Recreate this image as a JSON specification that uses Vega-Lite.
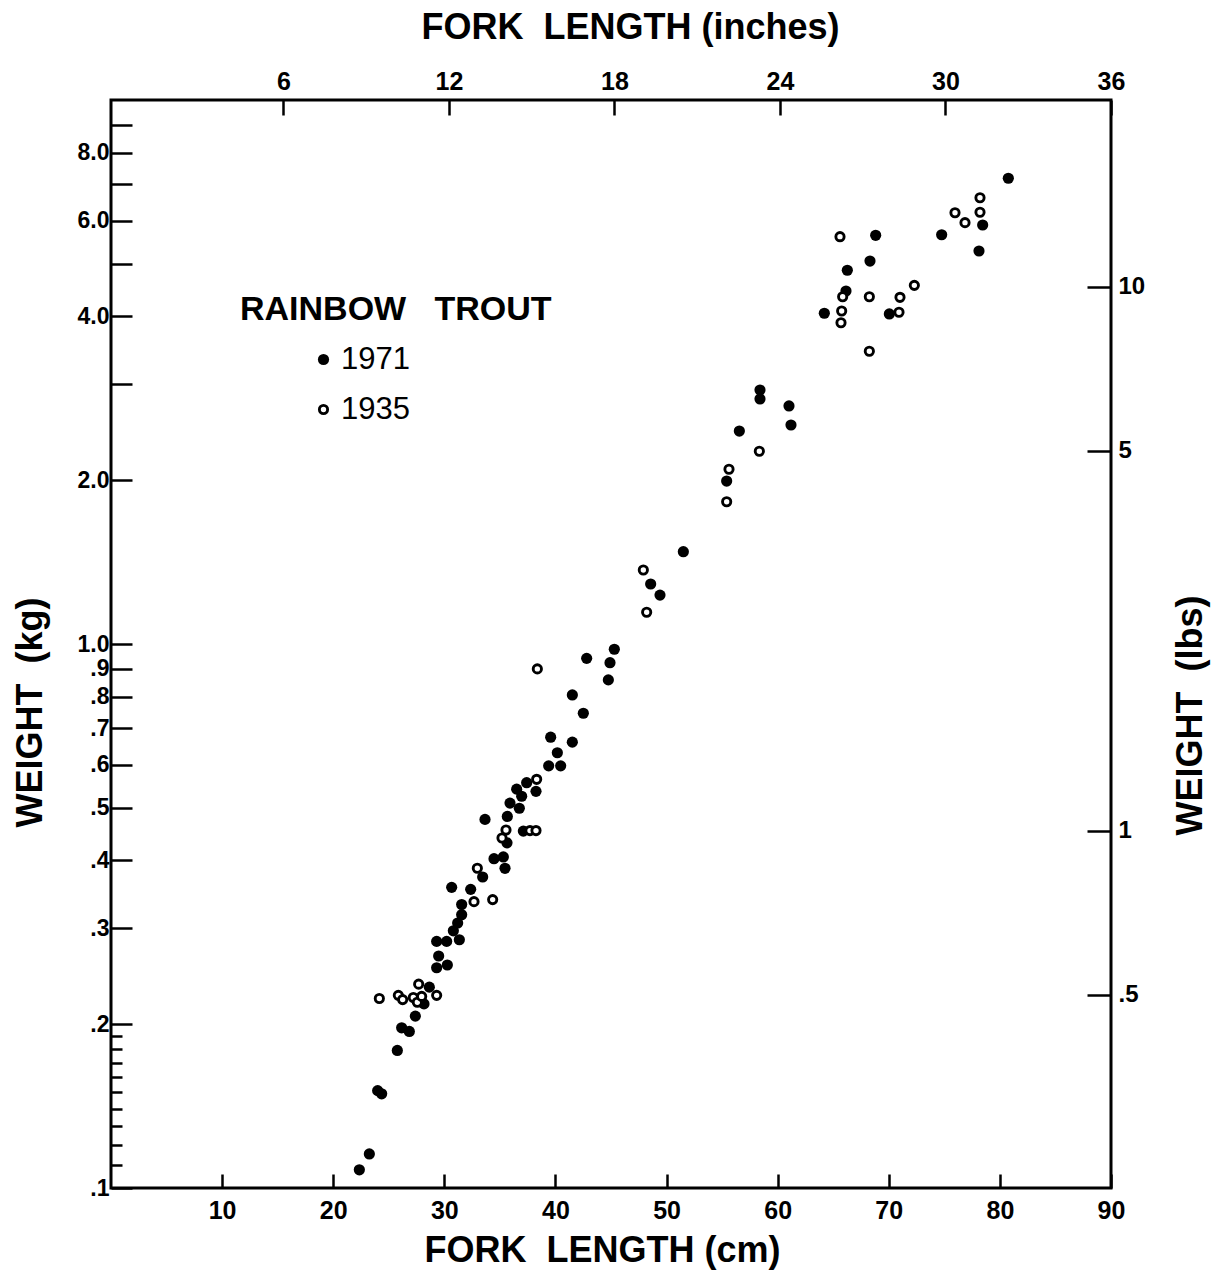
{
  "$schema": "https://vega.github.io/schema/vega-lite/v6.json",
  "width": 1000,
  "height": 1088,
  "autosize": {"type": "none"},
  "padding": {"left": 111, "top": 100, "right": 105, "bottom": 84},
  "background": "white",
  "config": {
    "view": {"stroke": "black", "strokeWidth": 3},
    "axis": {
      "domain": false, "grid": false, "tickColor": "black", "tickWidth": 2.5,
      "labelColor": "black", "titleColor": "black",
      "labelFont": "Liberation Sans, sans-serif", "labelFontWeight": "bold", "labelFontSize": 25,
      "titleFont": "Liberation Sans, sans-serif", "titleFontWeight": "bold", "titleFontSize": 36,
      "labelFlush": false, "labelOverlap": false, "labelBound": false, "labelAngle": 0,
      "titleAlign": "center", "titleBaseline": "middle"
    },
    "legend": {
      "orient": "none", "legendX": 129, "legendY": 193, "padding": 0,
      "titleFont": "Liberation Sans", "titleFontWeight": "bold", "titleFontSize": 34, "titleColor": "black", "titleLimit": 600,
      "labelFont": "Liberation Sans", "labelFontSize": 31, "labelColor": "black", "labelLimit": 300,
      "symbolOffset": 68, "labelOffset": 2, "rowPadding": 18, "titlePadding": 17,
      "symbolStrokeColor": "black", "symbolType": "circle"
    }
  },
  "layer": [
    {
      "data": {"values": [
        {"cm": 22.35, "kg": 0.108, "year": "1971"},
        {"cm": 23.25, "kg": 0.1155, "year": "1971"},
        {"cm": 24.0, "kg": 0.151, "year": "1971"},
        {"cm": 24.36, "kg": 0.149, "year": "1971"},
        {"cm": 25.77, "kg": 0.179, "year": "1971"},
        {"cm": 26.16, "kg": 0.197, "year": "1971"},
        {"cm": 26.85, "kg": 0.194, "year": "1971"},
        {"cm": 27.39, "kg": 0.207, "year": "1971"},
        {"cm": 28.17, "kg": 0.218, "year": "1971"},
        {"cm": 28.65, "kg": 0.234, "year": "1971"},
        {"cm": 29.31, "kg": 0.254, "year": "1971"},
        {"cm": 30.27, "kg": 0.257, "year": "1971"},
        {"cm": 29.49, "kg": 0.267, "year": "1971"},
        {"cm": 29.31, "kg": 0.284, "year": "1971"},
        {"cm": 30.21, "kg": 0.284, "year": "1971"},
        {"cm": 31.35, "kg": 0.286, "year": "1971"},
        {"cm": 30.81, "kg": 0.297, "year": "1971"},
        {"cm": 31.2, "kg": 0.307, "year": "1971"},
        {"cm": 31.56, "kg": 0.318, "year": "1971"},
        {"cm": 31.56, "kg": 0.332, "year": "1971"},
        {"cm": 30.66, "kg": 0.357, "year": "1971"},
        {"cm": 32.37, "kg": 0.354, "year": "1971"},
        {"cm": 33.45, "kg": 0.373, "year": "1971"},
        {"cm": 34.47, "kg": 0.403, "year": "1971"},
        {"cm": 35.31, "kg": 0.406, "year": "1971"},
        {"cm": 35.46, "kg": 0.387, "year": "1971"},
        {"cm": 33.66, "kg": 0.476, "year": "1971"},
        {"cm": 35.64, "kg": 0.431, "year": "1971"},
        {"cm": 35.67, "kg": 0.482, "year": "1971"},
        {"cm": 35.91, "kg": 0.51, "year": "1971"},
        {"cm": 36.75, "kg": 0.499, "year": "1971"},
        {"cm": 36.51, "kg": 0.541, "year": "1971"},
        {"cm": 36.96, "kg": 0.525, "year": "1971"},
        {"cm": 37.41, "kg": 0.556, "year": "1971"},
        {"cm": 38.25, "kg": 0.536, "year": "1971"},
        {"cm": 37.11, "kg": 0.453, "year": "1971"},
        {"cm": 39.39, "kg": 0.597, "year": "1971"},
        {"cm": 40.47, "kg": 0.597, "year": "1971"},
        {"cm": 40.17, "kg": 0.631, "year": "1971"},
        {"cm": 39.57, "kg": 0.674, "year": "1971"},
        {"cm": 41.52, "kg": 0.66, "year": "1971"},
        {"cm": 42.51, "kg": 0.746, "year": "1971"},
        {"cm": 41.52, "kg": 0.806, "year": "1971"},
        {"cm": 44.76, "kg": 0.859, "year": "1971"},
        {"cm": 42.81, "kg": 0.941, "year": "1971"},
        {"cm": 44.91, "kg": 0.924, "year": "1971"},
        {"cm": 45.3, "kg": 0.978, "year": "1971"},
        {"cm": 48.57, "kg": 1.289, "year": "1971"},
        {"cm": 49.41, "kg": 1.23, "year": "1971"},
        {"cm": 51.51, "kg": 1.478, "year": "1971"},
        {"cm": 55.41, "kg": 1.993, "year": "1971"},
        {"cm": 56.55, "kg": 2.463, "year": "1971"},
        {"cm": 61.2, "kg": 2.527, "year": "1971"},
        {"cm": 61.02, "kg": 2.739, "year": "1971"},
        {"cm": 58.41, "kg": 2.93, "year": "1971"},
        {"cm": 58.41, "kg": 2.821, "year": "1971"},
        {"cm": 64.2, "kg": 4.055, "year": "1971"},
        {"cm": 66.15, "kg": 4.455, "year": "1971"},
        {"cm": 66.27, "kg": 4.864, "year": "1971"},
        {"cm": 68.31, "kg": 5.058, "year": "1971"},
        {"cm": 68.82, "kg": 5.64, "year": "1971"},
        {"cm": 70.05, "kg": 4.043, "year": "1971"},
        {"cm": 74.76, "kg": 5.654, "year": "1971"},
        {"cm": 78.12, "kg": 5.277, "year": "1971"},
        {"cm": 78.45, "kg": 5.891, "year": "1971"},
        {"cm": 80.76, "kg": 7.18, "year": "1971"},
        {"cm": 24.15, "kg": 0.223, "year": "1935"},
        {"cm": 25.86, "kg": 0.226, "year": "1935"},
        {"cm": 26.25, "kg": 0.222, "year": "1935"},
        {"cm": 27.21, "kg": 0.224, "year": "1935"},
        {"cm": 27.69, "kg": 0.237, "year": "1935"},
        {"cm": 27.57, "kg": 0.2195, "year": "1935"},
        {"cm": 27.96, "kg": 0.225, "year": "1935"},
        {"cm": 29.31, "kg": 0.226, "year": "1935"},
        {"cm": 32.67, "kg": 0.336, "year": "1935"},
        {"cm": 34.35, "kg": 0.339, "year": "1935"},
        {"cm": 32.97, "kg": 0.387, "year": "1935"},
        {"cm": 35.55, "kg": 0.455, "year": "1935"},
        {"cm": 35.19, "kg": 0.44, "year": "1935"},
        {"cm": 37.71, "kg": 0.454, "year": "1935"},
        {"cm": 38.25, "kg": 0.454, "year": "1935"},
        {"cm": 38.31, "kg": 0.564, "year": "1935"},
        {"cm": 38.37, "kg": 0.9, "year": "1935"},
        {"cm": 47.91, "kg": 1.368, "year": "1935"},
        {"cm": 48.21, "kg": 1.144, "year": "1935"},
        {"cm": 55.41, "kg": 1.826, "year": "1935"},
        {"cm": 55.62, "kg": 2.095, "year": "1935"},
        {"cm": 58.35, "kg": 2.261, "year": "1935"},
        {"cm": 65.61, "kg": 5.607, "year": "1935"},
        {"cm": 65.85, "kg": 4.349, "year": "1935"},
        {"cm": 65.76, "kg": 4.094, "year": "1935"},
        {"cm": 65.7, "kg": 3.895, "year": "1935"},
        {"cm": 68.25, "kg": 4.349, "year": "1935"},
        {"cm": 68.25, "kg": 3.452, "year": "1935"},
        {"cm": 71.01, "kg": 4.338, "year": "1935"},
        {"cm": 70.92, "kg": 4.072, "year": "1935"},
        {"cm": 72.3, "kg": 4.564, "year": "1935"},
        {"cm": 75.96, "kg": 6.206, "year": "1935"},
        {"cm": 76.86, "kg": 5.95, "year": "1935"},
        {"cm": 78.21, "kg": 6.613, "year": "1935"},
        {"cm": 78.21, "kg": 6.217, "year": "1935"}
      ]},
      "mark": {"type": "point", "shape": "circle", "filled": true, "opacity": 1},
      "encoding": {
        "x": {
          "field": "cm", "type": "quantitative",
          "scale": {"domain": [0, 90], "nice": false, "zero": false},
          "axis": {"orient": "bottom", "values": [10, 20, 30, 40, 50, 60, 70, 80, 90], "tickSize": -14, "labelPadding": 24,
            "title": "FORK\u00a0\u00a0LENGTH (cm)", "titleX": 491, "titleY": 62}
        },
        "y": {
          "field": "kg", "type": "quantitative",
          "scale": {"type": "log", "domain": [0.1, 10], "nice": false},
          "axis": {"orient": "left", "values": [0.1, 0.2, 0.3, 0.4, 0.5, 0.6, 0.7, 0.8, 0.9, 1, 2, 3, 4, 5, 6, 7, 8, 9],
            "tickSize": -21, "labelPadding": 23, "labelFontSize": 23,
            "labelExpr": "datum.value < 1 ? replace(format(datum.value, '.1f'), '0.', '.') : (indexof([1, 2, 4, 6, 8], datum.value) >= 0 ? format(datum.value, '.1f') : '')",
            "title": "WEIGHT\u00a0\u00a0(kg)", "titleX": -81, "titleY": 612, "titleAngle": 270}
        },
        "fill": {
          "field": "year", "type": "nominal",
          "scale": {"domain": ["1971", "1935"], "range": ["black", "white"]},
          "legend": {"title": "RAINBOW\u00a0\u00a0 TROUT"}
        },
        "stroke": {
          "field": "year", "type": "nominal",
          "scale": {"domain": ["1971", "1935"], "range": ["black", "black"]},
          "legend": {"title": "RAINBOW\u00a0\u00a0 TROUT"}
        },
        "size": {
          "field": "year", "type": "nominal",
          "scale": {"domain": ["1971", "1935"], "range": [125, 68]},
          "legend": {"title": "RAINBOW\u00a0\u00a0 TROUT"}
        },
        "strokeWidth": {
          "field": "year", "type": "nominal",
          "scale": {"domain": ["1971", "1935"], "range": [0, 2.9]},
          "legend": {"title": "RAINBOW\u00a0\u00a0 TROUT"}
        }
      }
    },
    {
      "data": {"values": [{"inches": 6, "lbs": 1}]},
      "mark": {"type": "point", "opacity": 0},
      "encoding": {
        "x": {
          "field": "inches", "type": "quantitative",
          "scale": {"domain": [-0.25, 36], "nice": false, "zero": false},
          "axis": {"orient": "top", "values": [6, 12, 18, 24, 30, 36], "tickSize": -15, "labelPadding": 21,
            "title": "FORK\u00a0\u00a0LENGTH (inches)", "titleX": 519, "titleY": -73}
        },
        "y": {
          "field": "lbs", "type": "quantitative",
          "scale": {"type": "log", "domain": [0.220462, 22.0462], "nice": false},
          "axis": {"orient": "right", "values": [0.5, 1, 5, 10], "tickSize": -24, "labelPadding": 31,
            "labelFontSize": 24,
            "labelExpr": "datum.value == 0.5 ? '.5' : format(datum.value, 'd')",
            "title": "WEIGHT\u00a0\u00a0(lbs)", "titleX": 79, "titleY": 615, "titleAngle": 270}
        }
      }
    },
    {
      "data": {"values": [{"kgminor": 0.15}]},
      "mark": {"type": "point", "opacity": 0},
      "encoding": {
        "y": {
          "field": "kgminor", "type": "quantitative",
          "scale": {"type": "log", "domain": [0.1, 10], "nice": false},
          "axis": {"orient": "left", "values": [0.11, 0.12, 0.13, 0.14, 0.15, 0.16, 0.17, 0.18, 0.19],
            "tickSize": -11, "labels": false, "title": null}
        }
      }
    }
  ],
  "resolve": {"scale": {"x": "independent", "y": "independent"}, "axis": {"x": "independent", "y": "independent"}}
}
